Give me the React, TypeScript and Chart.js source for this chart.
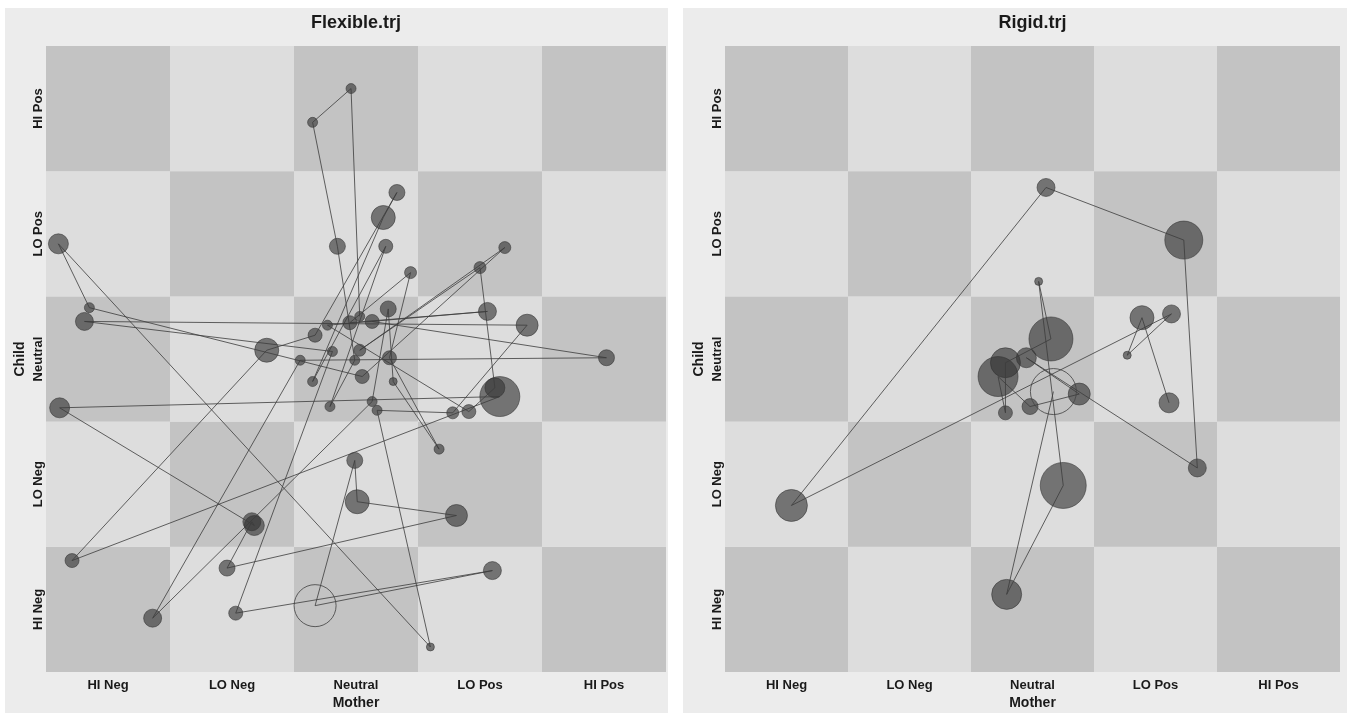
import React, { useEffect, useRef } from 'react';
import { Chart, registerables } from 'chart.js';

Chart.register(...registerables);

// Category labels of the state space grid (both axes)
const stateLabels = ['HI Neg', 'LO Neg', 'Neutral', 'LO Pos', 'HI Pos'];
const cellCenters = [0.5, 1.5, 2.5, 3.5, 4.5];

// Flexible.trj — trajectory in time order (Mother = x, Child = y, size = bubble radius)
const flexMother = [2.53, 2.46, 2.15, 2.35, 2.49, 2.29, 2.74, 2.15, 2.72, 2.83, 2.17, 1.78, 0.21, 3.66, 0.11, 1.68, 1.66, 1.46, 3.31, 2.51, 2.49, 2.17, 3.60, 1.53, 2.31, 0.31, 3.88, 3.28, 2.67, 3.10, 0.10, 0.35, 2.55, 3.70, 2.53, 3.50, 3.62, 3.41, 2.27, 3.56, 2.45, 2.94, 2.77, 3.17, 2.80, 2.76, 2.63, 0.86, 2.05, 4.52, 2.63];
const flexChild = [2.84, 4.66, 4.39, 3.40, 2.49, 2.12, 3.40, 2.32, 3.63, 3.83, 2.69, 2.57, 0.89, 2.20, 2.11, 1.17, 1.20, 0.83, 1.25, 1.36, 1.69, 0.53, 0.81, 0.47, 2.56, 2.80, 2.77, 2.07, 2.09, 0.20, 3.42, 2.91, 2.36, 3.39, 2.57, 3.23, 2.27, 2.08, 2.77, 2.88, 2.79, 3.19, 2.51, 1.78, 2.32, 2.90, 2.16, 0.43, 2.49, 2.51, 2.80];
const flexSize = [5, 5, 5, 8, 5, 5, 7, 5, 12, 8, 7, 12, 7, 20, 10, 10, 9, 8, 11, 12, 8, 21, 9, 7, 5, 9, 11, 6, 5, 4, 10, 5, 7, 6, 6, 6, 10, 7, 5, 9, 7, 6, 7, 5, 4, 8, 5, 9, 5, 8, 7];
const flexOpen = [21];

// Rigid.trj
const rigidMother = [3.61, 3.39, 3.27, 3.63, 0.54, 2.61, 3.73, 3.84, 2.45, 2.88, 2.48, 2.22, 2.28, 2.28, 2.65, 2.55, 2.75, 2.29, 2.67];
const rigidChild = [2.15, 2.83, 2.53, 2.86, 1.33, 3.87, 3.45, 1.63, 2.51, 2.22, 2.12, 2.36, 2.07, 2.47, 2.66, 3.12, 1.49, 0.62, 2.24];
const rigidSize = [10, 12, 4, 9, 16, 9, 19, 9, 10, 11, 8, 20, 7, 15, 22, 4, 23, 15, 23];
const rigidOpen = [18];

const FONT = "'Liberation Sans', Arial, Helvetica, sans-serif";
const TEXT = '#1a1a1a';
const DARK = '#c3c3c3';
const LIGHT = '#dddddd';
const PANEL = '#ececec';

const boardPlugin = {
  id: 'board',
  beforeDraw(chart: any, _args: any, opts: any) {
    const { ctx, width, height } = chart;
    ctx.save();
    ctx.fillStyle = '#ffffff';
    ctx.fillRect(0, 0, width, height);
    ctx.fillStyle = PANEL;
    ctx.fillRect(opts.panelLeft, opts.panelTop, opts.panelRight - opts.panelLeft, height - opts.panelTop);
    const xs = chart.scales.x;
    const ys = chart.scales.y;
    for (let i = 0; i < 5; i++) {
      for (let j = 0; j < 5; j++) {
        const x0 = xs.getPixelForValue(i);
        const x1 = xs.getPixelForValue(i + 1);
        const y0 = ys.getPixelForValue(j + 1);
        const y1 = ys.getPixelForValue(j);
        ctx.fillStyle = (i + j) % 2 === 0 ? DARK : LIGHT;
        ctx.fillRect(x0, y0, x1 - x0, y1 - y0);
      }
    }
    ctx.restore();
  },
  afterDraw(chart: any) {
    const { ctx, chartArea } = chart;
    const ys = chart.scales.y;
    ctx.save();
    ctx.font = `bold 13px ${FONT}`;
    ctx.fillStyle = TEXT;
    ctx.textAlign = 'center';
    ctx.textBaseline = 'middle';
    cellCenters.forEach((v, i) => {
      const py = ys.getPixelForValue(v);
      ctx.save();
      ctx.translate(chartArea.left - 8, py);
      ctx.rotate(-Math.PI / 2);
      ctx.fillText(stateLabels[i], 0, 0);
      ctx.restore();
    });
    ctx.restore();
  },
};

function makeConfig(
  title: string,
  mx: number[],
  cy: number[],
  sz: number[],
  open: number[],
  padLeft: number,
  padRight: number,
  panelLeft: number,
  panelRight: number
): any {
  const bubbles = mx.map((x, i) => ({ x, y: cy[i], r: sz[i] }));
  const path = mx.map((x, i) => ({ x, y: cy[i] }));
  const isOpen = (i: number) => open.includes(i);
  const setTicks = (s: any) => {
    s.ticks = cellCenters.map((v) => ({ value: v }));
  };
  return {
    type: 'bubble',
    data: {
      datasets: [
        {
          type: 'line',
          data: path,
          borderColor: 'rgba(60,60,60,0.8)',
          borderWidth: 1,
          pointRadius: 0,
          tension: 0,
          fill: false,
          order: 0,
        },
        {
          type: 'bubble',
          data: bubbles,
          backgroundColor: bubbles.map((_, i) => (isOpen(i) ? 'rgba(0,0,0,0)' : 'rgba(50,50,50,0.62)')),
          borderColor: bubbles.map((_, i) => (isOpen(i) ? 'rgba(70,70,70,0.85)' : 'rgba(50,50,50,0.55)')),
          borderWidth: 1,
          order: 1,
        },
      ],
    },
    options: {
      animation: false,
      responsive: false,
      devicePixelRatio: 1,
      events: [],
      layout: { autoPadding: false, padding: { left: padLeft, right: padRight, top: 0, bottom: 0 } },
      plugins: {
        legend: { display: false },
        tooltip: { enabled: false },
        title: {
          display: true,
          text: title,
          fullSize: false,
          color: TEXT,
          font: { family: FONT, size: 18, weight: 'bold' },
          padding: { top: 12, bottom: 12.4 },
        },
        board: { panelLeft, panelRight, panelTop: 8 },
      },
      scales: {
        x: {
          type: 'linear',
          min: 0,
          max: 5,
          afterBuildTicks: setTicks,
          afterFit: (s: any) => {
            s.height = 41;
          },
          ticks: {
            callback: (v: number) => stateLabels[Math.floor(v)],
            font: { family: FONT, size: 13, weight: 'bold' },
            color: TEXT,
            padding: 6,
            maxRotation: 0,
            autoSkip: false,
          },
          grid: { display: false, drawTicks: false },
          border: { display: false },
          title: {
            display: true,
            text: 'Mother',
            color: TEXT,
            font: { family: FONT, size: 14, weight: 'bold' },
            padding: { top: 0, bottom: 1 },
          },
        },
        y: {
          type: 'linear',
          min: 0,
          max: 5,
          afterBuildTicks: setTicks,
          afterFit: (s: any) => {
            s.width = 46;
          },
          ticks: { display: false },
          grid: { display: false, drawTicks: false },
          border: { display: false },
          title: {
            display: true,
            text: 'Child',
            color: TEXT,
            font: { family: FONT, size: 14, weight: 'bold' },
            padding: { top: 11.6, bottom: 0 },
          },
        },
      },
    },
    plugins: [boardPlugin],
  };
}

function Panel({ config, left, width }: { config: () => any; left: number; width: number }) {
  const ref = useRef<HTMLCanvasElement | null>(null);
  useEffect(() => {
    if (!ref.current) return;
    const chart = new Chart(ref.current, config());
    return () => chart.destroy();
  }, []);
  return (
    <canvas
      ref={ref}
      width={width}
      height={713}
      style={{ position: 'absolute', left, top: 0, width, height: 713, display: 'block' }}
    />
  );
}

export default function App() {
  return (
    <div style={{ position: 'absolute', left: 0, top: 0, width: 1347, height: 713, background: '#ffffff', overflow: 'hidden' }}>
      <Panel
        left={0}
        width={676}
        config={() => makeConfig('Flexible.trj', flexMother, flexChild, flexSize, flexOpen, 0, 10, 5, 668)}
      />
      <Panel
        left={676}
        width={671}
        config={() => makeConfig('Rigid.trj', rigidMother, rigidChild, rigidSize, rigidOpen, 3, 7, 7, 671)}
      />
    </div>
  );
}
